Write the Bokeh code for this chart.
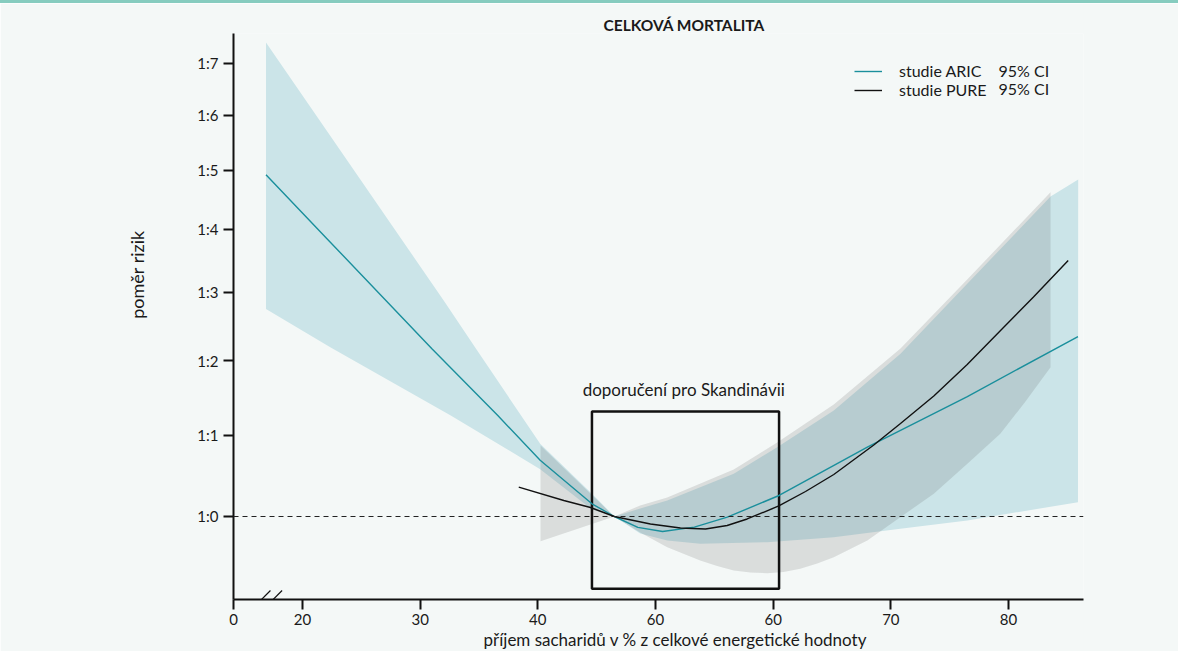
from bokeh.plotting import figure
from bokeh.models import Range1d, FixedTicker, Span, Label, Legend, LegendItem, Title
from bokeh.embed import file_html
from bokeh.resources import INLINE

FONT = "Lato"
BG = "#f4f8f7"
TEAL = "#1a8f9c"
TEXT = "#1a1a1a"

# ---------------- data ----------------
x_ticks = [20, 30, 40, 50, 60, 70, 80]
x_tick_labels = ["20", "30", "40", "60", "60", "70", "80"]
x_axis_start = 14.14
x_axis_start_label = "0"
x_axis_end = 86.37

y_ticks = [1.0, 1.1, 1.2, 1.3, 1.4, 1.5, 1.6, 1.7]
y_tick_labels = ["1:0", "1:1", "1:2", "1:3", "1:4", "1:5", "1:6", "1:7"]
y_axis_min = 0.9074
y_axis_max = 1.7602

reference_hr = 1.0

# ARIC study (teal line + light blue 95% CI band)
aric_x = [16.9, 22.0, 31.0, 36.6, 40.2, 44.6, 46.5, 48.5, 50.6, 53.3, 56.1, 60.5, 68.0, 76.5, 85.9]
aric_y = [1.492, 1.386, 1.217, 1.1255, 1.068, 1.015, 1.0, 0.9874, 0.9826, 0.9876, 0.9992, 1.0249, 1.0845, 1.1508, 1.2345]
aric_hi_x = [16.9, 32.0, 34.85, 40.2, 44.6, 46.5, 48.7, 51.0, 56.65, 60.34, 65.15, 70.82, 76.49, 83.57, 85.92]
aric_hi_y = [1.742, 1.2877, 1.2145, 1.0888, 1.027, 1.0, 1.0094, 1.0189, 1.0513, 1.0845, 1.1321, 1.2098, 1.3131, 1.4543, 1.4836]
aric_lo_x = [16.9, 22.4, 32.6, 40.2, 44.6, 46.5, 48.7, 51.0, 53.8, 59.5, 65.15, 70.8, 76.5, 85.9]
aric_lo_y = [1.275, 1.2188, 1.1255, 1.057, 1.0082, 1.0, 0.9803, 0.9723, 0.9686, 0.9704, 0.9761, 0.9857, 0.9953, 1.0169]

# PURE study (black line + grey 95% CI band)
pure_x = [38.38, 42.21, 44.48, 46.5, 49.57, 52.12, 54.25, 56.09, 57.79, 60.48, 62.75, 65.15,
          68.55, 70.82, 73.65, 76.49, 79.32, 82.12, 85.07]
pure_y = [1.0349, 1.0189, 1.0106, 1.0, 0.9913, 0.9866, 0.9855, 0.9895, 0.9971, 1.0124, 1.0297, 1.0504,
          1.0873, 1.1150, 1.1515, 1.1947, 1.2432, 1.2930, 1.3495]
pure_hi_x = [40.23, 46.5, 48.7, 51.0, 56.65, 60.34, 65.15, 70.82, 76.49, 83.57]
pure_hi_y = [1.0867, 1.0, 1.0130, 1.0225, 1.0566, 1.0905, 1.1402, 1.2172, 1.3198, 1.4617]
pure_lo_x = [40.23, 46.5, 48.7, 51.0, 53.8, 55.24, 56.65, 58.07, 59.5, 60.88, 62.3, 63.74, 65.15,
             68.0, 70.8, 73.65, 76.5, 79.3, 81.44, 83.57]
pure_lo_y = [0.9715, 1.0, 0.9814, 0.9647, 0.9498, 0.9437, 0.9387, 0.9366, 0.9358, 0.9371, 0.9406, 0.9465, 0.9535,
             0.9723, 0.9992, 1.0269, 1.0636, 1.1017, 1.1441, 1.191]

# Nordic recommendation box
nordic_x = [44.6, 60.5]
nordic_hr = [0.9189, 1.1308]

# axis-break marks (two slashes)
break_x0 = [15.44, 16.43]
break_x1 = [17.28, 18.27]
break_y0 = [0.894, 0.894]
break_y1 = [0.917, 0.917]

# ---------------- figure ----------------
p = figure(width=1178, height=651,
           x_range=Range1d(x_axis_start, x_axis_end),
           y_range=Range1d(y_axis_min, y_axis_max),
           y_axis_type="log",
           output_backend="svg", toolbar_location=None,
           min_border_left=233, min_border_right=95,
           min_border_top=30, min_border_bottom=55,
           background_fill_color=BG, border_fill_color=BG,
           outline_line_color=None,
           styles={"border-top": "3px solid #86ccbf"})
p.grid.visible = False

# CI bands
p.patch(aric_hi_x + aric_lo_x[::-1], aric_hi_y + aric_lo_y[::-1],
        fill_color="#cbe4e8", line_color=None)
p.patch(pure_hi_x + pure_lo_x[::-1], pure_hi_y + pure_lo_y[::-1],
        fill_color="#5b5b5b", fill_alpha=0.17, line_color=None)

# reference line HR = 1
p.add_layout(Span(location=reference_hr, dimension="width", line_color="#222222",
                  line_width=1.2, line_dash="5 4"))

# recommendation box
p.quad(left=[nordic_x[0]], right=[nordic_x[1]], bottom=[nordic_hr[0]], top=[nordic_hr[1]],
       fill_color=None, line_color="#111111", line_width=2.5)

# lines
r_aric = p.line(aric_x, aric_y, line_color=TEAL, line_width=1.4)
r_pure = p.line(pure_x, pure_y, line_color="#111111", line_width=1.4)

# axis break marks
p.segment(x0=break_x0, y0=break_y0, x1=break_x1, y1=break_y1,
          line_color="#111111", line_width=1.2)

# axes
xa = p.xaxis[0]
xa.ticker = FixedTicker(ticks=[x_axis_start] + x_ticks)
ov = {x_axis_start: x_axis_start_label}
ov.update(dict(zip(x_ticks, x_tick_labels)))
xa.major_label_overrides = ov
ya = p.yaxis[0]
ya.ticker = FixedTicker(ticks=y_ticks)
ya.major_label_overrides = dict(zip(y_ticks, y_tick_labels))
for ax in (xa, ya):
    ax.axis_line_width = 2
    ax.axis_line_color = "#111111"
    ax.major_tick_line_width = 2
    ax.major_tick_line_color = "#111111"
    ax.major_tick_out = 10
    ax.major_tick_in = 0
    ax.minor_tick_line_color = None
    ax.major_label_text_font = FONT
    ax.major_label_text_font_size = "15px"
    ax.major_label_text_color = TEXT
xa.major_label_standoff = 4
ya.major_label_standoff = 5

# legend
legend = Legend(items=[LegendItem(label="studie ARIC", renderers=[r_aric]),
                       LegendItem(label="studie PURE", renderers=[r_pure])],
                location=(621, 500), orientation="vertical",
                glyph_width=28, glyph_height=16, label_height=16, spacing=-4,
                label_standoff=17, padding=0, margin=0,
                border_line_color=None, background_fill_alpha=0,
                label_text_font=FONT, label_text_font_size="16px",
                label_text_color=TEXT)
p.add_layout(legend)
for yy in (1.6857, 1.6510):
    p.add_layout(Label(x=79.15, y=yy, text="95% CI", text_align="left", text_baseline="middle",
                       text_font=FONT, text_font_size="16px", text_color=TEXT))

# title
p.title.text = "CELKOVÁ MORTALITA"
p.title.align = "left"
p.title.offset = 370
p.title.standoff = 0
p.title.vertical_align = "bottom"
p.title.text_font = FONT
p.title.text_font_size = "15.5px"
p.title.text_font_style = "bold"
p.title.text_color = TEXT

# x axis label
p.add_layout(Title(text="příjem sacharidů v % z celkové energetické hodnoty",
                   align="left", offset=250, standoff=0, vertical_align="middle",
                   text_font=FONT, text_font_size="17px", text_font_style="normal",
                   text_color=TEXT), "below")
# y axis label
p.add_layout(Title(text="poměr rizik", align="right", offset=197, standoff=92,
                   vertical_align="middle", text_font=FONT, text_font_size="18px",
                   text_font_style="normal", text_color=TEXT), "left")

# box caption
p.add_layout(Label(x=52.4, y=1.1603, text="doporučení pro Skandinávii",
                   text_align="center", text_baseline="middle", text_font=FONT,
                   text_font_size="17px", text_color=TEXT))

open("out.html", "w").write(file_html(p, INLINE))
